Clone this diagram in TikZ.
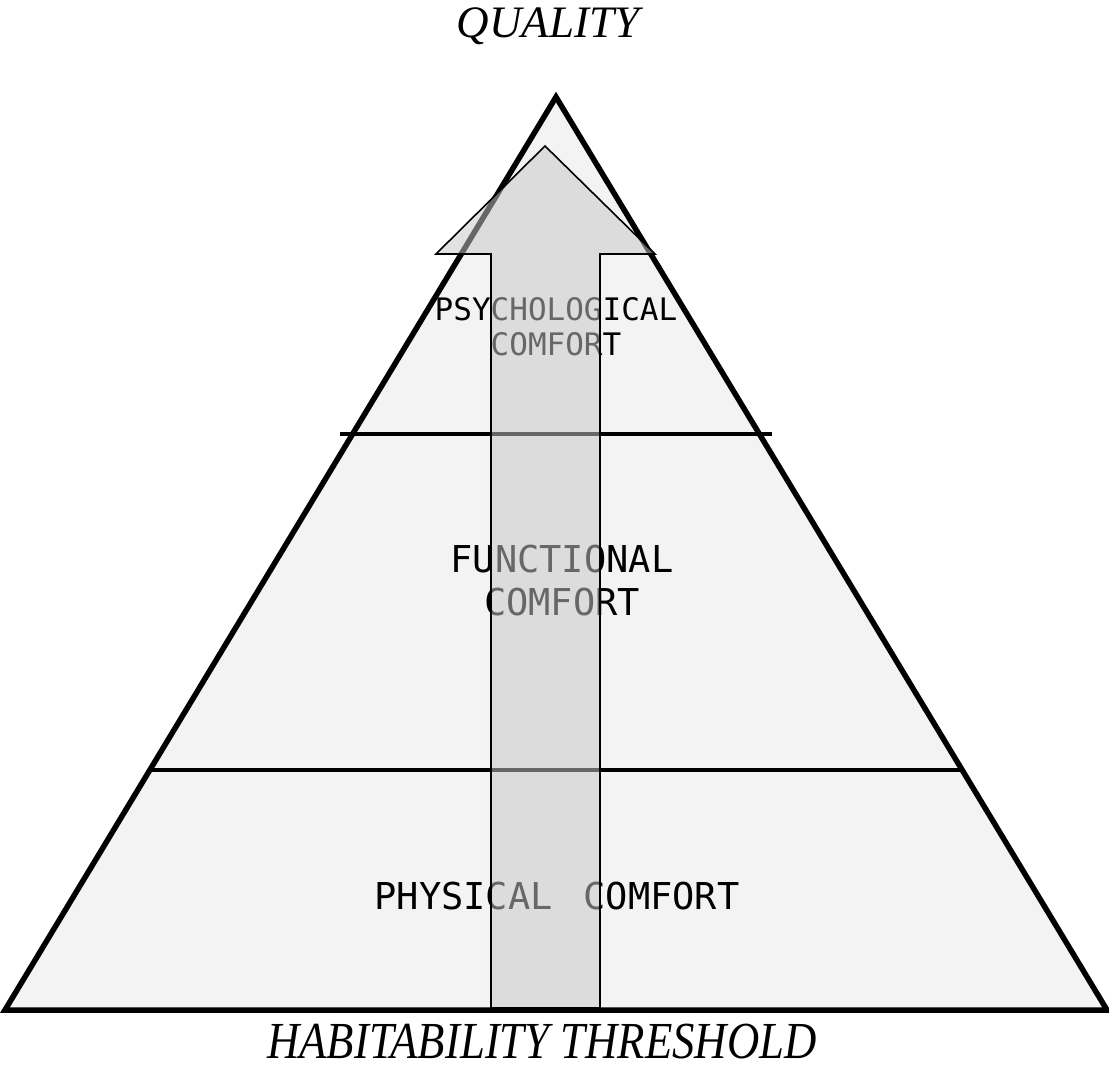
\documentclass[tikz,border=0pt]{standalone}
\usepackage{fontspec}
\setmainfont{Liberation Serif}
\newfontfamily\monof{DejaVu Sans Mono}
\definecolor{trifill}{HTML}{F3F3F3}
\definecolor{arrfill}{HTML}{C7C7C7}
\begin{document}
\begin{tikzpicture}[x=1pt,y=-1pt,
  tri/.style={draw=black,line width=5.5pt,fill=trifill,line join=miter},
  levelline/.style={draw=black,line width=4.2pt},
  bigarrow/.style={draw=black,line width=1.6pt,fill=arrfill,fill opacity=0.52,line join=miter},
  lvlbig/.style={font=\monof\fontsize{37}{43}\selectfont,align=center,anchor=base,inner sep=0pt},
  lvlsmall/.style={font=\monof\fontsize{31}{35}\selectfont,align=center,anchor=base,inner sep=0pt},
  title/.style={font=\itshape\fontsize{45}{50}\selectfont,anchor=base,inner sep=0pt}]
\useasboundingbox (0,0) rectangle (1109,1070);
% pyramid
\coordinate (apex) at (556,97);
\coordinate (bl) at (5,1010);
\coordinate (br) at (1107,1010);
\draw[tri] (apex) -- (br) -- (bl) -- cycle;
% level lines
\coordinate (l1a) at (340,434);
\coordinate (l1b) at (772,434);
\coordinate (l2a) at (150,770);
\coordinate (l2b) at (962,770);
\draw[levelline] (l1a) -- (l1b);
\draw[levelline] (l2a) -- (l2b);
% labels
\node[lvlsmall] (psy1) at (556,320) {PSYCHOLOGICAL};
\node[lvlsmall] (psy2) at (556,355) {COMFORT};
\node[lvlbig] (fun1) at (562,572) {FUNCTIONAL};
\node[lvlbig] (fun2) at (562,615) {COMFORT};
\node[lvlbig] (phy) at (557,909) {PHYSICAL\hspace{0.83em}COMFORT};
% arrow
\coordinate (a1) at (491,1008);
\coordinate (a2) at (491,254);
\coordinate (a3) at (436,254);
\coordinate (tip) at (545,146);
\coordinate (a5) at (655,254);
\coordinate (a6) at (600,254);
\coordinate (a7) at (600,1008);
\draw[bigarrow] (a1) -- (a2) -- (a3) -- (tip) -- (a5) -- (a6) -- (a7) -- cycle;
% titles
\node[title] (quality) at (548,38) {QUALITY};
\node[title,font=\itshape\fontsize{52}{56}\selectfont] (threshold) at (542,1058) {\scalebox{0.86}[1]{HABITABILITY THRESHOLD}};
\end{tikzpicture}
\end{document}
